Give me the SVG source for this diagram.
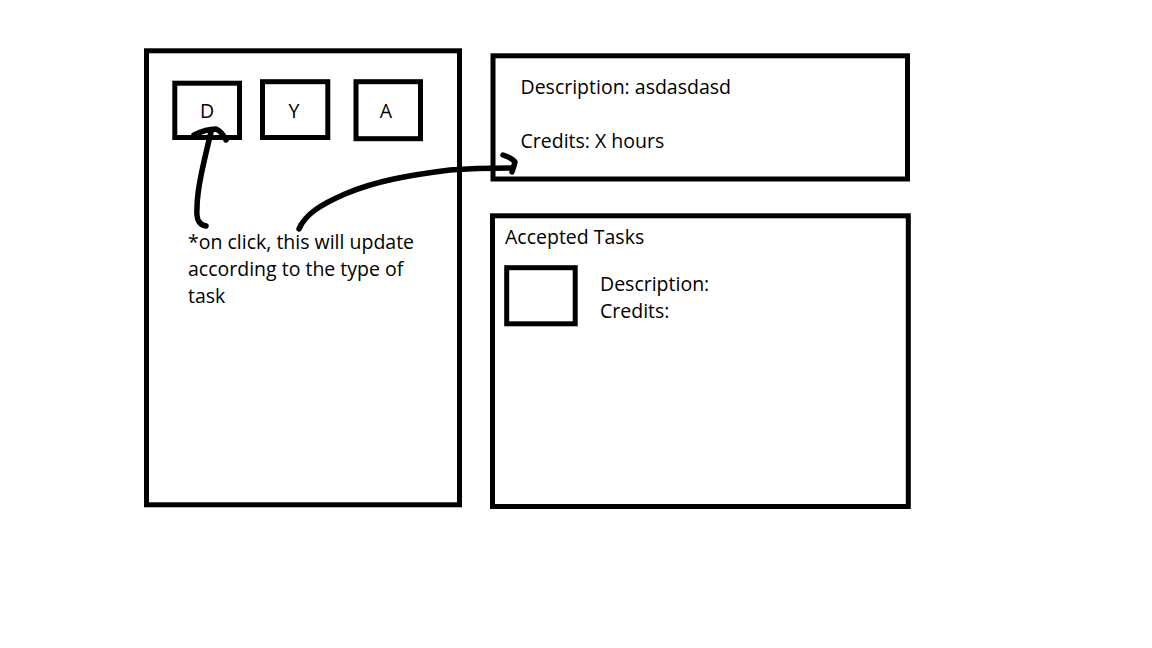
<svg xmlns="http://www.w3.org/2000/svg" width="1152" height="648" viewBox="0 0 1152 648">
  <style>
    .frame { fill: none; stroke: #000; stroke-width: 5; }
    .txt { font-family: "Open Sans", "Noto Sans", sans-serif; font-size: 19.5px; fill: #000; }
    .mid { text-anchor: middle; }
    .pen { fill: none; stroke: #000; stroke-width: 5.5; stroke-linecap: round; stroke-linejoin: round; }
  </style>
  <rect width="1152" height="648" fill="#fff"/>

  <!-- task type selector panel -->
  <g id="selector-panel">
    <rect class="frame" x="146.5" y="50.8" width="313" height="454"/>
  </g>
  <g id="type-d">
    <rect class="frame" x="174.8" y="83.2" width="64.7" height="54.3"/>
    <text class="txt mid" x="207" y="117.5">D</text>
  </g>
  <g id="type-y">
    <rect class="frame" x="262.5" y="81.7" width="65.3" height="55.8"/>
    <text class="txt mid" x="294" y="117.5">Y</text>
  </g>
  <g id="type-a">
    <rect class="frame" x="356" y="81.7" width="64.5" height="57"/>
    <text class="txt mid" x="386" y="117.5">A</text>
  </g>
  <g id="note">
    <text class="txt" x="188" y="249">*on click, this will update</text>
    <text class="txt" x="188" y="276">according to the type of</text>
    <text class="txt" x="188" y="303">task</text>
  </g>

  <!-- task detail panel -->
  <g id="detail-panel">
    <rect class="frame" x="493" y="55.8" width="414.5" height="123.2"/>
    <text class="txt" x="520.5" y="93.5">Description: asdasdasd</text>
    <text class="txt" x="520.5" y="147.5">Credits: X hours</text>
  </g>

  <!-- accepted tasks panel -->
  <g id="accepted-panel">
    <rect class="frame" x="492.5" y="215.8" width="415.8" height="290.7"/>
    <text class="txt" x="505" y="244.3">Accepted Tasks</text>
  </g>
  <g id="accepted-item">
    <rect class="frame" x="506.7" y="267.7" width="68.5" height="56.1"/>
    <text class="txt" x="600" y="291">Description:</text>
    <text class="txt" x="600" y="317.5">Credits:</text>
  </g>

  <!-- hand-drawn connectors -->
  <g id="connectors">
    <path class="pen" d="M206,226 C199,225 196,220 197,208 C197,190 203,165 211,132"/>
    <path class="pen" d="M194,135 C202,131 210,129 216,129 C221,131 224,136 226,140"/>
    <path class="pen" d="M299,229 C305,214 322,204 345,194 C375,181 410,175 450,170 C475,168 495,168 512,168"/>
    <path class="pen" d="M503,155 C509,157 513,159 515,162 C514,166 513,169 512,172"/>
  </g>
</svg>
